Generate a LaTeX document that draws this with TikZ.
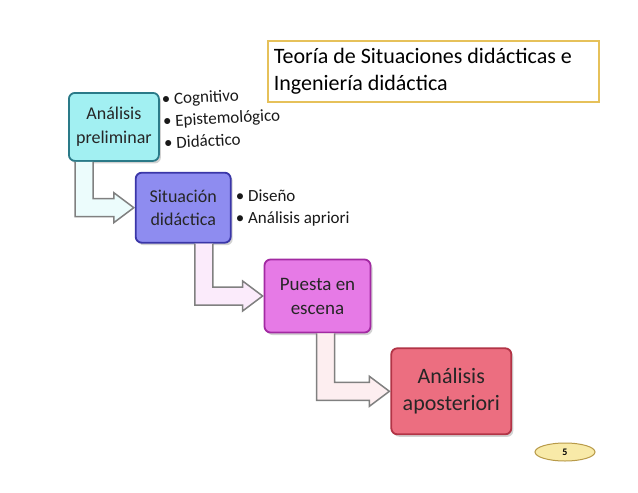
\documentclass[tikz,border=0pt]{standalone}
\usepackage{fontspec}
\setmainfont{Carlito}
\usetikzlibrary{arrows.meta, positioning, calc, shapes.geometric, shadows}
\definecolor{figcyan}{HTML}{A2F0F2}
\definecolor{figcyanline}{HTML}{2A7A88}
\definecolor{figviolet}{HTML}{8E8CF0}
\definecolor{figvioletline}{HTML}{3A36A8}
\definecolor{figmagenta}{HTML}{E67AE6}
\definecolor{figmagentaline}{HTML}{A22AA2}
\definecolor{figrose}{HTML}{EC6E80}
\definecolor{figroseline}{HTML}{B23446}
\definecolor{figgold}{HTML}{E6C15A}
\definecolor{figoval}{HTML}{F8EAA8}
\tikzset{
  stagebox/.style={draw, rounded corners=6pt, line width=1.8pt, align=center,
    inner sep=3pt, text=black!85, anchor=north west,
    drop shadow={shadow xshift=2pt, shadow yshift=-2.5pt, opacity=0.35}},
  scyan/.style={fill=figcyan, draw=figcyanline},
  sviolet/.style={fill=figviolet, draw=figvioletline},
  smagenta/.style={fill=figmagenta, draw=figmagentaline},
  srose/.style={fill=figrose, draw=figroseline},
  bulletlist/.style={align=left, inner sep=0pt, text=black!90,
    font=\fontsize{17}{22}\selectfont},
  bentarrow/.style={fill=#1, draw=black!50, line width=1.5pt, line join=miter},
}

\begin{document}
\begin{tikzpicture}[x=1pt, y=-1pt]
  \fill[white] (0,0) rectangle (638,493);
  \useasboundingbox (0,0) rectangle (638,493);
  % title
  \node[draw=figgold, line width=1.6pt, fill=white, anchor=north west,
    minimum width=331pt, minimum height=61pt, text width=319pt, align=flush left,
    inner xsep=6pt, font=\fontsize{22}{27}\selectfont] (title) at (267,40)
    {Teoría de Situaciones didácticas e\\Ingeniería didáctica};
  % stages
  \node[stagebox, scyan, minimum width=90pt, minimum height=68pt,
    font=\fontsize{18}{24}\selectfont] (b1) at (68,92) {Análisis\\preliminar};
  \node[stagebox, sviolet, minimum width=95pt, minimum height=70pt,
    font=\fontsize{18}{23}\selectfont, below right=10pt and -25pt of b1] (b2) {Situación\\didáctica};
  \node[stagebox, smagenta, minimum width=106pt, minimum height=73pt,
    font=\fontsize{19}{24}\selectfont, below right=15pt and 32pt of b2] (b3) {Puesta en\\escena};
  \node[stagebox, srose, minimum width=120pt, minimum height=86pt,
    font=\fontsize{22}{27}\selectfont, below right=14pt and 19pt of b3] (b4) {Análisis\\aposteriori};
  % bullet lists
  \node[bulletlist, right=3pt of b1, yshift=6pt, rotate=3] (l1)
    {\textbullet\ Cognitivo\\\textbullet\ Epistemológico\\\textbullet\ Didáctico};
  \node[bulletlist, right=4pt of b2] (l2)
    {\textbullet\ Diseño\\\textbullet\ Análisis apriori};
  % bent arrows
  \foreach \a/\b/\off/\col in {b1/b2/7/figcyan!20, b2/b3/60/figmagenta!15, b3/b4/53/figrose!12}
    \draw[bentarrow=\col] let \p1=(\a.south west), \p2=(\b.west) in
      ({\x1+\off pt+18pt},\y1) -- ({\x1+\off pt+18pt},{\y2+9pt})
      -- ({\x2-21pt},{\y2+9pt}) -- ({\x2-21pt},{\y2+15pt}) -- ({\x2-1pt},\y2)
      -- ({\x2-21pt},{\y2-15pt}) -- ({\x2-21pt},{\y2-9pt})
      -- ({\x1+\off pt},{\y2-9pt}) -- ({\x1+\off pt},\y1);
  % page number
  \node[ellipse, draw=figgold!80!black, line width=1pt, fill=figoval,
    minimum width=60pt, minimum height=18pt, inner sep=0pt,
    font=\bfseries\fontsize{10}{10}\selectfont] (page) at (565,452) {5};
\end{tikzpicture}
\end{document}
